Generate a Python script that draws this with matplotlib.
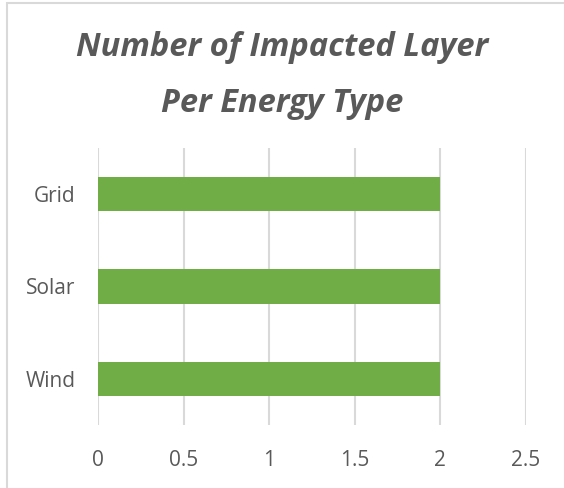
import matplotlib.pyplot as plt
from matplotlib.patches import Rectangle

categories = ["Wind", "Solar", "Grid"]
layers = [2, 2, 2]
x_ticks = [0, 0.5, 1, 1.5, 2, 2.5]
x_labels = ["0", "0.5", "1", "1.5", "2", "2.5"]

text_color = "#595959"
grid_color = "#D9D9D9"
bar_color = "#70AD47"

plt.rcParams['font.family'] = ['Open Sans', 'DejaVu Sans']

fig = plt.figure(figsize=(5.64, 4.88), dpi=100)
ax = fig.add_axes([98 / 564, 63 / 488, 428 / 564, 277 / 488])

ax.barh(categories, layers, height=0.37, color=bar_color, zorder=3)
ax.set_xlim(0, 2.5)
ax.set_ylim(-0.5, 2.5)
ax.set_xticks(x_ticks)
ax.set_xticklabels(x_labels)
ax.xaxis.grid(True, color=grid_color, linewidth=1.5, zorder=0)
ax.set_axisbelow(True)
for s in ax.spines.values():
    s.set_visible(False)
ax.tick_params(axis='both', length=0, labelsize=15, labelcolor=text_color)
ax.tick_params(axis='x', pad=18)
ax.tick_params(axis='y', pad=16)

fig.text(0.5, 1 - 47 / 488, "Number of Impacted Layer", ha='center', va='center',
         fontsize=23.5, fontweight='bold', fontstyle='italic', color=text_color)
fig.text(0.5, 1 - 104 / 488, "Per Energy Type", ha='center', va='center',
         fontsize=23.5, fontweight='bold', fontstyle='italic', color=text_color)

# chart frame
fig.patches.append(Rectangle((7 / 564, -0.1), 1.2, 1.1 - 3 / 488, transform=fig.transFigure,
                             fill=False, edgecolor=grid_color, linewidth=1.5))

fig.savefig("out.png", dpi=100)
